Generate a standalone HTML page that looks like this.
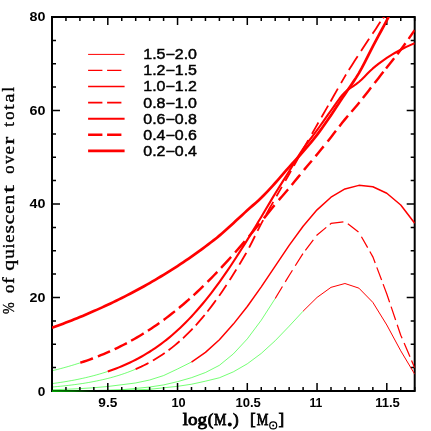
<!DOCTYPE html>
<html><head><meta charset="utf-8"><title>chart</title>
<style>
html,body{margin:0;padding:0;background:#fff;}
body{width:431px;height:431px;position:relative;overflow:hidden;font-family:"Liberation Sans",sans-serif;}
text{fill:#000;stroke:#000;paint-order:stroke;}
.tl{font-family:"Liberation Sans",sans-serif;font-size:12px;font-weight:bold;stroke-width:0px;}
.lg{font-family:"Liberation Sans",sans-serif;font-size:14.2px;stroke-width:0.45px;}
.al{font-family:"Liberation Serif",serif;font-size:17px;stroke-width:0.8px;}
.yl{font-family:"Liberation Serif",serif;font-size:16.4px;stroke-width:0.35px;}
</style></head><body>
<svg width="431" height="431" viewBox="0 0 431 431" style="position:absolute;left:0;top:0;will-change:transform">
<rect width="431" height="431" fill="#fff"/>
<defs><clipPath id="cp"><rect x="52.0" y="17.0" width="362.7" height="375.2"/></clipPath></defs>
<g clip-path="url(#cp)" fill="none" stroke-linejoin="round">
<polyline points="52.00,390.92 65.95,390.88 79.90,390.81 93.85,390.70 107.80,390.54 121.75,390.28 135.70,389.89 149.65,389.29 163.60,387.82 177.55,386.32 191.50,384.22 205.45,381.18 219.40,377.78 233.35,371.84 247.30,363.81 261.25,353.42 275.20,340.71 289.15,326.23 303.10,311.17" stroke="#00ff00" stroke-width="0.55"/>
<polyline points="52.00,390.87 65.95,390.79 79.90,390.67 93.85,390.48 107.80,390.17 121.75,389.70 135.70,388.43 149.65,387.03 163.60,384.92 177.55,381.65 191.50,377.68 205.45,372.53 219.40,365.32 233.35,353.90 247.30,338.89 261.25,320.21 275.20,298.54" stroke="#00ff00" stroke-width="0.55"/>
<polyline points="52.00,389.78 65.95,389.30 79.90,388.64 93.85,387.73 107.80,386.47 121.75,384.74 135.70,382.96 149.65,380.01 163.60,375.57 177.55,368.98 191.50,362.01" stroke="#00ff00" stroke-width="0.55"/>
<polyline points="52.00,387.00 54.79,386.77 57.58,386.52 60.37,386.25 63.16,385.96 65.95,385.66 68.74,385.35 71.53,385.01 74.32,384.65 77.11,384.28 79.90,383.88 82.69,383.47 85.48,383.02 88.27,382.55 91.06,382.05 93.85,381.53 96.64,380.98 99.43,380.40 102.22,379.78 105.01,379.13 107.80,378.44 110.59,377.72 113.38,376.95 116.17,376.14 118.96,375.29 121.75,374.39 124.54,373.45 127.33,372.45 130.12,371.40 132.91,370.30 135.70,369.14" stroke="#00ff00" stroke-width="0.55"/>
<polyline points="52.00,383.60 54.79,383.24 57.58,382.84 60.37,382.43 63.16,382.00 65.95,381.54 68.74,381.07 71.53,380.57 74.32,380.05 77.11,379.50 79.90,378.92 82.69,378.32 85.48,377.69 88.27,377.03 91.06,376.33 93.85,375.61 96.64,374.85 99.43,374.06 102.22,373.22 105.01,372.35 107.80,371.44" stroke="#00ff00" stroke-width="0.55"/>
<polyline points="52.00,370.78 54.79,370.10 57.58,369.40 60.37,368.67 63.16,367.92 65.95,367.15 68.74,366.35 71.53,365.53 74.32,364.68 77.11,363.81 79.90,362.91" stroke="#00ff00" stroke-width="0.55"/>
</g>
<rect x="52.0" y="17.0" width="362.7" height="374.0" fill="none" stroke="#000" stroke-width="2"/>
<path d="M52.00 391.0 v-4 M52.00 17.0 v4 M65.95 391.0 v-4 M65.95 17.0 v4 M79.90 391.0 v-4 M79.90 17.0 v4 M93.85 391.0 v-4 M93.85 17.0 v4 M107.80 391.0 v-8 M107.80 17.0 v8 M121.75 391.0 v-4 M121.75 17.0 v4 M135.70 391.0 v-4 M135.70 17.0 v4 M149.65 391.0 v-4 M149.65 17.0 v4 M163.60 391.0 v-4 M163.60 17.0 v4 M177.55 391.0 v-8 M177.55 17.0 v8 M191.50 391.0 v-4 M191.50 17.0 v4 M205.45 391.0 v-4 M205.45 17.0 v4 M219.40 391.0 v-4 M219.40 17.0 v4 M233.35 391.0 v-4 M233.35 17.0 v4 M247.30 391.0 v-8 M247.30 17.0 v8 M261.25 391.0 v-4 M261.25 17.0 v4 M275.20 391.0 v-4 M275.20 17.0 v4 M289.15 391.0 v-4 M289.15 17.0 v4 M303.10 391.0 v-4 M303.10 17.0 v4 M317.05 391.0 v-8 M317.05 17.0 v8 M331.00 391.0 v-4 M331.00 17.0 v4 M344.95 391.0 v-4 M344.95 17.0 v4 M358.90 391.0 v-4 M358.90 17.0 v4 M372.85 391.0 v-4 M372.85 17.0 v4 M386.80 391.0 v-8 M386.80 17.0 v8 M400.75 391.0 v-4 M400.75 17.0 v4 M414.70 391.0 v-4 M414.70 17.0 v4 M52.0 391.00 h8 M414.7 391.00 h-8 M52.0 367.62 h4 M414.7 367.62 h-4 M52.0 344.25 h4 M414.7 344.25 h-4 M52.0 320.88 h4 M414.7 320.88 h-4 M52.0 297.50 h8 M414.7 297.50 h-8 M52.0 274.12 h4 M414.7 274.12 h-4 M52.0 250.75 h4 M414.7 250.75 h-4 M52.0 227.38 h4 M414.7 227.38 h-4 M52.0 204.00 h8 M414.7 204.00 h-8 M52.0 180.62 h4 M414.7 180.62 h-4 M52.0 157.25 h4 M414.7 157.25 h-4 M52.0 133.88 h4 M414.7 133.88 h-4 M52.0 110.50 h8 M414.7 110.50 h-8 M52.0 87.12 h4 M414.7 87.12 h-4 M52.0 63.75 h4 M414.7 63.75 h-4 M52.0 40.38 h4 M414.7 40.38 h-4 M52.0 17.00 h8 M414.7 17.00 h-8" stroke="#000" stroke-width="1.5" fill="none"/>
<defs><linearGradient id="gg" x1="52" x2="96" y1="0" y2="0" gradientUnits="userSpaceOnUse"><stop offset="0" stop-color="#00b000" stop-opacity="0.95"/><stop offset="0.5" stop-color="#00a000" stop-opacity="0.7"/><stop offset="1" stop-color="#009000" stop-opacity="0"/></linearGradient></defs>
<rect x="52" y="390.3" width="44" height="1.7" fill="url(#gg)"/>
<g clip-path="url(#cp)" fill="none" stroke-linejoin="round">
<polyline points="303.10,311.17 317.05,297.42 331.00,287.35 344.95,283.50 358.90,288.14 372.85,302.39 386.80,324.98 400.75,350.84 414.70,374.17" stroke="#ff0000" stroke-width="1.0"/>
<path d="M275.20 298.54 L282.44 286.55 M285.26 281.90 L289.15 275.45 L292.44 270.23 M295.26 265.75 L302.93 253.58 M305.38 250.31 L313.32 239.88 M316.58 235.59 L317.05 234.98 L326.27 227.36 M329.83 224.42 L331.00 223.45 L343.40 221.84 M347.84 223.83 L358.49 231.90 M361.45 236.71 L367.65 247.66 M369.85 251.54 L372.85 256.84 L375.19 263.07 M376.81 267.36 L381.59 280.09 M383.11 284.11 L386.80 293.93 L389.60 302.24 M391.10 306.66 L395.60 320.02 M397.20 324.74 L400.75 335.27 L402.08 338.37 M404.12 343.12 L409.98 356.79 M411.52 360.38 L414.70 367.79" stroke="#ff0000" stroke-width="1.25"/>
<polyline points="191.50,362.01 205.45,352.43 219.40,339.81 233.35,324.10 247.30,306.49 261.25,286.84 275.20,266.06 289.15,245.40 303.10,226.24 317.05,209.85 331.00,197.19 344.95,188.90 358.90,185.36 372.85,186.74 386.80,193.21 400.75,204.96 414.70,223.17" stroke="#ff0000" stroke-width="1.5"/>
<path d="M135.60 369.18 L135.70 369.14 L138.49 367.92 L141.28 366.64 L144.07 365.28 L146.86 363.87 L148.48 363.01 M152.91 360.56 L153.83 360.02 L156.62 358.34 L159.41 356.58 L162.20 354.74 L164.73 353.01 M168.56 350.24 L169.18 349.78 L171.97 347.63 L174.76 345.39 L177.55 343.06 L179.58 341.30 M183.01 338.19 L183.13 338.09 L185.92 335.44 L188.71 332.69 L191.50 329.86 L192.62 328.69 M195.77 325.29 L197.08 323.84 L199.87 320.66 L202.66 317.38 L204.66 314.97 M207.44 311.52 L208.24 310.51 L211.03 306.89 L213.82 303.16 L215.89 300.33 M219.10 295.84 L219.40 295.42 L222.19 291.40 L224.98 287.26 L226.52 284.94 M229.68 280.06 L230.56 278.69 L233.35 274.29 L236.14 269.83 L236.33 269.53 M239.36 264.60 L240.32 263.02 L243.11 258.33 L245.90 253.48 L246.26 252.85 M249.13 247.60 L250.09 245.77 L252.88 240.26 L254.99 236.01 M257.51 230.93 L258.46 229.04 L261.25 223.64 L263.17 220.05 M266.34 214.23 L266.83 213.33 L269.62 208.31 L272.41 203.33 L273.26 201.83 M276.45 196.20 L276.59 195.94 L279.38 191.11 L281.85 186.89 M285.35 180.89 L286.36 179.16 L289.15 174.30 L291.06 170.92 M293.94 165.76 L294.73 164.33 L297.52 159.30 L299.46 155.80 M302.64 150.11 L303.10 149.30 L305.89 144.40 L308.25 140.28 M311.95 133.85 L312.86 132.26 L315.65 127.42 L318.44 122.56 L318.45 122.55 M321.45 117.33 L322.63 115.27 L325.42 110.41 L328.15 105.65 M330.55 101.47 L331.00 100.68 L333.79 95.78 L336.58 90.84 L337.85 88.59 M341.05 82.99 L342.16 81.08 L344.95 76.37 L346.03 74.59 M348.87 70.01 L349.13 69.59 L351.92 65.19 L354.71 60.85 L357.50 56.55 L357.72 56.22 M361.08 51.04 L361.69 50.10 L364.48 45.83 L367.27 41.59 L369.11 38.84 M372.60 33.73 L372.85 33.36 L375.64 29.14 L378.43 24.74 L380.41 21.73 M382.92 18.24 L384.01 16.90 L386.80 14.20 L389.43 12.21" stroke="#ff0000" stroke-width="1.8"/>
<polyline points="107.80,371.44 110.59,370.49 113.38,369.49 116.17,368.45 118.96,367.36 121.75,366.22 124.54,365.04 127.33,363.79 130.12,362.49 132.91,361.14 135.70,359.73 138.49,358.27 141.28,356.73 144.07,355.13 146.86,353.47 149.65,351.74 152.44,349.95 155.23,348.07 158.02,346.12 160.81,344.10 163.60,342.01 166.39,339.83 169.18,337.57 171.97,335.22 174.76,332.80 177.55,330.30 180.34,327.71 183.13,325.02 185.92,322.24 188.71,319.38 191.50,316.44 194.29,313.41 197.08,310.28 199.87,307.05 202.66,303.74 205.45,300.35 208.24,296.87 211.03,293.29 213.82,289.62 216.61,285.88 219.40,282.06 222.19,278.16 224.98,274.17 227.77,270.10 230.56,265.97 233.35,261.78 236.14,257.52 238.93,253.19 241.72,248.80 244.51,244.36 247.30,239.89 250.09,235.37 252.88,230.80 255.67,226.19 258.46,221.56 261.25,216.93 264.04,212.26 266.83,207.55 269.62,202.84 272.41,198.16 275.20,193.55 277.99,189.03 280.78,184.57 283.57,180.14 286.36,175.72 289.15,171.28 291.94,166.73 294.73,162.12 297.52,157.53 300.31,153.06 303.10,148.84 305.89,144.89 308.68,141.15 311.47,137.52 314.26,133.88 317.05,130.14 319.84,126.25 322.63,122.28 325.42,118.30 328.21,114.35 331.00,110.50 333.79,106.60 336.58,102.62 339.37,98.76 342.16,95.24 344.95,92.27 347.74,89.89 350.53,87.88 353.32,86.02 356.11,84.13 358.90,81.98 361.69,79.45 364.48,76.66 367.27,73.78 370.06,70.98 372.85,68.43 375.64,66.11 378.43,63.90 381.22,61.80 384.01,59.80 386.80,57.91 389.59,56.11 392.38,54.40 395.17,52.77 397.96,51.21 400.75,49.73 403.54,48.30 406.33,46.92 409.12,45.61 411.91,44.36 414.70,43.18" stroke="#ff0000" stroke-width="2.1"/>
<path d="M80.30 362.78 L81.29 362.45 L84.08 361.51 L86.87 360.54 L89.66 359.54 L92.45 358.51 L92.94 358.33 M97.86 356.43 L98.03 356.36 L100.82 355.23 L103.61 354.07 L106.40 352.88 L109.19 351.66 L110.05 351.28 M114.64 349.17 L114.77 349.10 L117.56 347.77 L120.35 346.40 L123.14 345.00 L125.93 343.55 L126.87 343.06 M131.13 340.75 L131.51 340.54 L134.30 338.97 L137.09 337.37 L139.88 335.72 L142.67 334.03 L143.69 333.40 M147.91 330.74 L148.25 330.52 L151.04 328.70 L153.83 326.83 L156.62 324.92 L159.31 323.03 M163.58 319.95 L163.60 319.94 L166.39 317.87 L169.18 315.75 L171.97 313.58 L174.76 311.37 L174.93 311.23 M178.96 307.95 L180.34 306.81 L183.13 304.45 L185.92 302.05 L188.71 299.60 L189.65 298.76 M193.54 295.25 L194.29 294.57 L197.08 291.98 L199.87 289.35 L202.66 286.67 L203.47 285.88 M207.53 281.89 L208.24 281.18 L211.03 278.37 L213.82 275.51 L216.61 272.61 L217.29 271.90 M221.11 267.86 L222.19 266.71 L224.98 263.69 L227.77 260.63 L230.56 257.54 L231.10 256.94 M235.10 252.45 L236.14 251.26 L238.93 248.07 L241.72 244.85 L244.51 241.59 L244.81 241.24 M248.89 236.44 L250.09 235.01 L252.88 231.68 L255.67 228.32 L258.46 224.94 L259.62 223.53 M263.88 218.31 L264.04 218.11 L266.83 214.63 L269.62 211.15 L272.41 207.69 L274.52 205.13 M278.79 200.09 L279.38 199.40 L282.17 196.20 L284.96 193.00 L287.75 189.75 L288.11 189.33 M291.68 185.05 L291.94 184.74 L294.73 181.32 L297.52 177.87 L300.12 174.67 M303.98 169.98 L304.49 169.37 L307.28 166.05 L310.07 162.76 L311.81 160.71 M315.58 156.21 L315.65 156.13 L318.44 152.75 L321.23 149.32 L323.62 146.37 M327.57 141.44 L328.21 140.65 L331.00 137.15 L333.79 133.60 L335.93 130.84 M339.37 126.41 L339.37 126.41 L342.16 122.85 L344.95 119.38 L347.74 116.05 L348.01 115.73 M351.39 111.81 L351.92 111.20 L354.71 107.99 L357.50 104.70 L359.52 102.25 M362.87 98.07 L363.08 97.80 L365.87 94.23 L368.66 90.63 L371.03 87.58 M374.57 83.06 L375.64 81.70 L378.43 78.15 L381.22 74.60 L383.43 71.78 M386.07 68.42 L386.80 67.49 L389.59 63.97 L392.38 60.47 L394.13 58.27 M397.37 54.15 L397.96 53.39 L400.75 49.73 L403.54 45.95 L405.45 43.32 M408.65 38.84 L409.12 38.17 L411.91 34.17 L414.70 30.09 L414.70 30.09" stroke="#ff0000" stroke-width="2.45"/>
<polyline points="52.00,327.76 54.79,326.75 57.58,325.73 60.37,324.69 63.16,323.64 65.95,322.58 68.74,321.50 71.53,320.41 74.32,319.30 77.11,318.18 79.90,317.04 82.69,315.89 85.48,314.72 88.27,313.53 91.06,312.33 93.85,311.11 96.64,309.88 99.43,308.63 102.22,307.36 105.01,306.08 107.80,304.77 110.59,303.46 113.38,302.12 116.17,300.77 118.96,299.39 121.75,298.00 124.54,296.60 127.33,295.17 130.12,293.73 132.91,292.26 135.70,290.78 138.49,289.27 141.28,287.75 144.07,286.21 146.86,284.64 149.65,283.06 152.44,281.45 155.23,279.83 158.02,278.18 160.81,276.51 163.60,274.82 166.39,273.10 169.18,271.37 171.97,269.61 174.76,267.82 177.55,266.01 180.34,264.18 183.13,262.32 185.92,260.44 188.71,258.53 191.50,256.59 194.29,254.63 197.08,252.64 199.87,250.62 202.66,248.58 205.45,246.50 208.24,244.41 211.03,242.29 213.82,240.14 216.61,237.94 219.40,235.66 222.19,233.28 224.98,230.81 227.77,228.27 230.56,225.72 233.35,223.17 236.14,220.62 238.93,218.04 241.72,215.45 244.51,212.87 247.30,210.31 250.09,207.81 252.88,205.37 255.67,202.91 258.46,200.39 261.25,197.76 264.04,194.98 266.83,192.08 269.62,189.10 272.41,186.06 275.20,183.00 277.99,179.88 280.78,176.68 283.57,173.44 286.36,170.22 289.15,167.04 291.94,163.95 294.73,160.91 297.52,157.87 300.31,154.80 303.10,151.64 305.89,148.41 308.68,145.14 311.47,141.80 314.26,138.37 317.05,134.81 319.84,131.10 322.63,127.24 325.42,123.27 328.21,119.24 331.00,115.18 333.79,111.06 336.58,106.86 339.37,102.62 342.16,98.37 344.95,94.14 347.74,90.01 350.53,85.96 353.32,81.87 356.11,77.62 358.90,73.10 361.69,68.16 364.48,62.87 367.27,57.38 370.06,51.85 372.85,46.45 375.64,41.19 378.43,35.97 381.22,30.76 384.01,25.53 386.80,20.27 389.59,14.92 392.38,9.48 395.17,4.06 397.96,-1.26 400.75,-6.37 403.54,-11.30 406.33,-16.10 409.12,-20.78 411.91,-25.33 414.70,-29.75" stroke="#ff0000" stroke-width="2.7"/>
</g>
<line x1="88.1" y1="54.40" x2="124.6" y2="54.40" stroke="#ff0000" stroke-width="1.0"/>
<text x="143.3" y="59.30" class="lg" textLength="53.7" lengthAdjust="spacingAndGlyphs">1.5−2.0</text>
<line x1="88.1" y1="70.47" x2="124.6" y2="70.47" stroke="#ff0000" stroke-width="1.25" stroke-dasharray="14.3 4.7"/>
<text x="143.3" y="75.37" class="lg" textLength="53.7" lengthAdjust="spacingAndGlyphs">1.2−1.5</text>
<line x1="88.1" y1="86.54" x2="124.6" y2="86.54" stroke="#ff0000" stroke-width="1.5"/>
<text x="143.3" y="91.44" class="lg" textLength="53.7" lengthAdjust="spacingAndGlyphs">1.0−1.2</text>
<line x1="88.1" y1="102.61" x2="124.6" y2="102.61" stroke="#ff0000" stroke-width="1.8" stroke-dasharray="14.3 4.7"/>
<text x="143.3" y="107.51" class="lg" textLength="53.7" lengthAdjust="spacingAndGlyphs">0.8−1.0</text>
<line x1="88.1" y1="118.68" x2="124.6" y2="118.68" stroke="#ff0000" stroke-width="2.1"/>
<text x="143.3" y="123.58" class="lg" textLength="53.7" lengthAdjust="spacingAndGlyphs">0.6−0.8</text>
<line x1="88.1" y1="134.75" x2="124.6" y2="134.75" stroke="#ff0000" stroke-width="2.45" stroke-dasharray="14.3 4.7"/>
<text x="143.3" y="139.65" class="lg" textLength="53.7" lengthAdjust="spacingAndGlyphs">0.4−0.6</text>
<line x1="88.1" y1="150.82" x2="124.6" y2="150.82" stroke="#ff0000" stroke-width="2.7"/>
<text x="143.3" y="155.72" class="lg" textLength="53.7" lengthAdjust="spacingAndGlyphs">0.2−0.4</text>
<text x="37.80" y="396.00" class="tl" textLength="7.6" lengthAdjust="spacingAndGlyphs">0</text>
<text x="29.50" y="301.80" class="tl" textLength="15.9" lengthAdjust="spacingAndGlyphs">20</text>
<text x="29.50" y="208.30" class="tl" textLength="15.9" lengthAdjust="spacingAndGlyphs">40</text>
<text x="29.50" y="114.80" class="tl" textLength="15.9" lengthAdjust="spacingAndGlyphs">60</text>
<text x="29.50" y="21.30" class="tl" textLength="15.9" lengthAdjust="spacingAndGlyphs">80</text>
<text x="98.3" y="407.1" class="tl" textLength="19.0" lengthAdjust="spacingAndGlyphs">9.5</text>
<text x="171.5" y="407.1" class="tl" textLength="14.2" lengthAdjust="spacingAndGlyphs">10</text>
<text x="235.4" y="407.1" class="tl" textLength="25.4" lengthAdjust="spacingAndGlyphs">10.5</text>
<text x="309.4" y="407.1" class="tl" textLength="12.8" lengthAdjust="spacingAndGlyphs">11</text>
<text x="375.2" y="407.1" class="tl" textLength="24.7" lengthAdjust="spacingAndGlyphs">11.5</text>
<text x="182.7" y="425.3" class="al" textLength="24.4" lengthAdjust="spacingAndGlyphs">log</text>
<text x="207.8" y="425.3" class="al">(</text>
<text x="213.9" y="425.3" class="al" textLength="12.4" lengthAdjust="spacingAndGlyphs">M</text>
<circle cx="229.8" cy="424.4" r="2.0" fill="#000"/>
<text x="233.1" y="425.3" class="al">)</text>
<text x="250.0" y="425.3" class="al">[</text>
<text x="256.7" y="425.3" class="al" textLength="11.6" lengthAdjust="spacingAndGlyphs">M</text>
<circle cx="273.2" cy="425.4" r="3.5" fill="none" stroke="#000" stroke-width="1.2"/><circle cx="273.2" cy="425.4" r="1.0" fill="#000"/>
<text x="278.6" y="425.3" class="al">]</text>
<g transform="translate(14.1,313.8) rotate(-90)"><text x="-0.28" y="0" class="yl" textLength="11.67" lengthAdjust="spacingAndGlyphs">%</text><text x="20.78" y="0" class="yl" textLength="8.33" lengthAdjust="spacingAndGlyphs">o</text><text x="30.18" y="0" class="yl" textLength="6.44" lengthAdjust="spacingAndGlyphs">f</text><text x="43.05" y="0" class="yl" textLength="11.00" lengthAdjust="spacingAndGlyphs">q</text><text x="54.72" y="0" class="yl" textLength="9.67" lengthAdjust="spacingAndGlyphs">u</text><text x="65.48" y="0" class="yl" textLength="4.44" lengthAdjust="spacingAndGlyphs">i</text><text x="71.08" y="0" class="yl" textLength="8.33" lengthAdjust="spacingAndGlyphs">e</text><text x="80.28" y="0" class="yl" textLength="8.44" lengthAdjust="spacingAndGlyphs">s</text><text x="89.52" y="0" class="yl" textLength="9.67" lengthAdjust="spacingAndGlyphs">c</text><text x="100.08" y="0" class="yl" textLength="8.33" lengthAdjust="spacingAndGlyphs">e</text><text x="109.22" y="0" class="yl" textLength="9.67" lengthAdjust="spacingAndGlyphs">n</text><text x="120.91" y="0" class="yl" textLength="7.89" lengthAdjust="spacingAndGlyphs">t</text><text x="140.18" y="0" class="yl" textLength="8.33" lengthAdjust="spacingAndGlyphs">o</text><text x="150.08" y="0" class="yl" textLength="8.33" lengthAdjust="spacingAndGlyphs">v</text><text x="159.28" y="0" class="yl" textLength="8.44" lengthAdjust="spacingAndGlyphs">e</text><text x="169.22" y="0" class="yl" textLength="7.67" lengthAdjust="spacingAndGlyphs">r</text><text x="187.16" y="0" class="yl" textLength="4.78" lengthAdjust="spacingAndGlyphs">t</text><text x="193.98" y="0" class="yl" textLength="8.33" lengthAdjust="spacingAndGlyphs">o</text><text x="203.82" y="0" class="yl" textLength="5.56" lengthAdjust="spacingAndGlyphs">t</text><text x="211.25" y="0" class="yl" textLength="9.00" lengthAdjust="spacingAndGlyphs">a</text><text x="222.17" y="0" class="yl" textLength="4.67" lengthAdjust="spacingAndGlyphs">l</text></g>
</svg>
</body></html>
